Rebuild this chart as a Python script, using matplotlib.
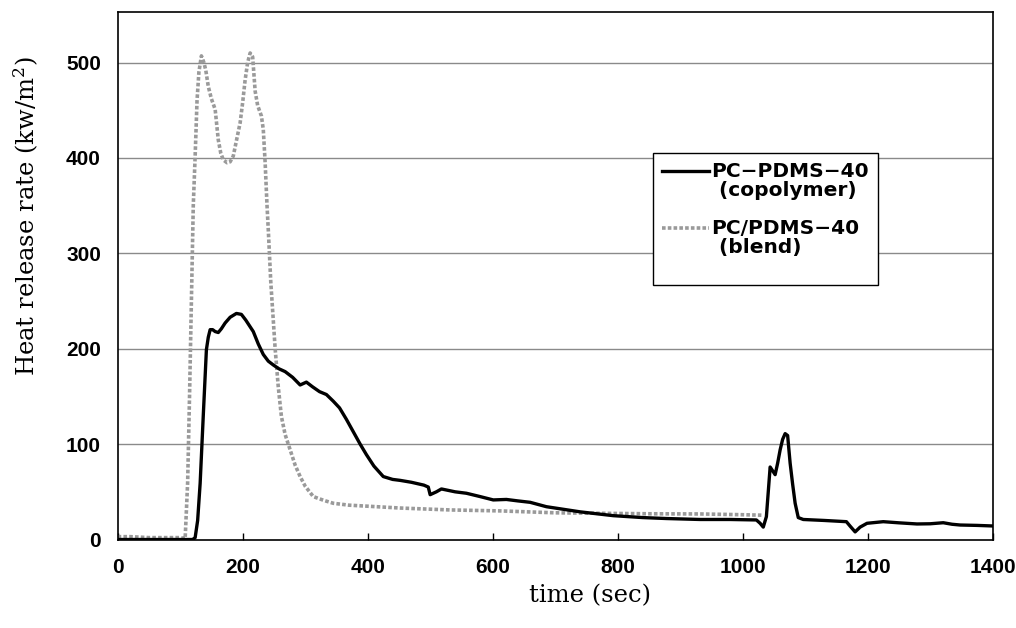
import numpy as np
import matplotlib
matplotlib.use('Agg')
import matplotlib.pyplot as plt

# PC-PDMS-40 copolymer, heat release rate (kw/m2) vs time (sec)
copoly_t = [0, 50, 100, 120, 124, 128, 132, 137, 142, 145, 148, 152, 156, 161, 166,
            172, 180, 190, 198, 205, 211, 217, 225, 233, 241, 249, 258, 268, 280,
            292, 302, 312, 323, 334, 345, 355, 366, 377, 388, 398, 410, 425, 440,
            452, 470, 490, 497, 500, 510, 518, 540, 558, 580, 601, 622, 640, 660,
            686, 710, 740, 793, 840, 878, 932, 980, 1022, 1028, 1033, 1038, 1041,
            1044, 1048, 1052, 1056, 1060, 1064, 1068, 1072, 1076, 1080, 1084, 1089,
            1097, 1130, 1166, 1172, 1180, 1188, 1199, 1225, 1250, 1279, 1300, 1321,
            1335, 1348, 1375, 1400]
copoly_hrr = [0, 0, 0, 0, 2, 20, 59, 130, 199, 212, 220, 220, 218, 217, 221,
              227, 233, 237, 236, 230, 224, 218, 205, 194, 187, 183, 179, 176, 170,
              162, 165, 160, 155, 152, 145, 138, 126, 113, 100, 89, 77, 66, 63,
              62, 60, 57, 55, 47, 50, 53, 50, 48.5, 45, 41.5, 42, 40.5, 39,
              34.4, 32, 29, 25, 23, 22, 21, 21, 20.5, 17, 13, 24, 50,
              76, 72, 68, 80, 94, 105, 111, 109, 80, 58, 38, 23,
              21, 20, 18.7, 14, 8, 13, 17, 18.7, 17.5, 16.3, 16.5, 17.6,
              16, 15.2, 14.8, 14.2]

# PC/PDMS-40 blend
blend_t = [0, 20, 50, 80, 100, 108, 112, 115, 118, 121, 124, 127, 130, 134, 138,
           141, 145, 150, 156, 161, 165, 169, 175, 180, 185, 190, 196, 200, 204,
           208, 212, 216, 220, 224, 230, 233, 236, 239, 241, 245, 249, 252, 257,
           262, 268, 276, 284, 292, 300, 313, 330, 345, 370, 398, 452, 532, 612,
           700, 772, 850, 932, 1000, 1030]
blend_hrr = [3, 3, 2, 2, 2, 1, 60, 150, 250, 350, 402, 460, 490, 507, 500,
             492, 475, 462, 451, 419, 405, 398, 395, 396, 402, 418, 437, 458, 482,
             500, 510, 506, 470, 455, 444, 430, 395, 350, 325, 270, 230, 200, 160,
             129, 110, 94, 78, 66, 56, 45, 41, 38, 36, 35, 33, 31, 30,
             28, 27.5, 27, 26.8, 26, 25.5]

x_ticks = [0, 200, 400, 600, 800, 1000, 1200, 1400]
y_ticks = [0, 100, 200, 300, 400, 500]

plt.rcParams['mathtext.fontset'] = 'dejavuserif'

fig = plt.figure(figsize=(10.16, 6.28), dpi=100)
ax = fig.add_axes([0.1158, 0.1409, 0.8612, 0.840])

for y in y_ticks[1:]:
    ax.axhline(y, color='#8a8a8a', lw=1.0, zorder=0)

l2, = ax.plot(blend_t, blend_hrr, color='#9a9a9a', lw=2.6, ls=(0, (1, 0.6)),
              label='PC/PDMS\u221240\n (blend)\n', zorder=2)
l1, = ax.plot(copoly_t, copoly_hrr, color='black', lw=2.4,
              label='PC\u2212PDMS\u221240\n (copolymer)\n', zorder=3)

ax.set_xlim(0, 1400)
ax.set_ylim(0, 553)
ax.set_xticks(x_ticks)
ax.set_yticks(y_ticks)
ax.tick_params(axis='x', direction='in', length=5, width=1, pad=13, labelsize=15)
ax.tick_params(axis='y', length=0, pad=12, labelsize=15)
for lab in ax.get_xticklabels() + ax.get_yticklabels():
    lab.set_family('Liberation Sans')
    lab.set_fontweight('bold')

for s in ax.spines.values():
    s.set_linewidth(1.2)
    s.set_color('black')

ax.set_xlabel('time (sec)', family='DejaVu Serif', size=17.5)
ax.xaxis.set_label_coords(0.54, -0.085)
ax.set_ylabel('Heat release rate (kw/m$^2$)', family='DejaVu Serif', size=17.5)
ax.yaxis.set_label_coords(-0.088, 0.612)

leg = ax.legend(handles=[l1, l2], loc='upper left', bbox_to_anchor=(0.612, 0.733),
                fancybox=False, edgecolor='black', framealpha=1, borderaxespad=0,
                prop={'family': 'DejaVu Sans', 'weight': 'bold', 'size': 14.5},
                handlelength=2.3, handletextpad=0.15, labelspacing=0.0, borderpad=0.45)
leg.get_frame().set_linewidth(1.0)
for t in leg.get_texts():
    t.set_linespacing(1.0)
# put the legend line next to the first line of each label
for ln in leg.get_lines():
    ln.set_ydata(np.asarray(ln.get_ydata()) + 14)

plt.savefig('out.png', dpi=100)
